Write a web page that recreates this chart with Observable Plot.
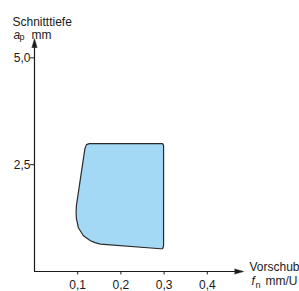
<!DOCTYPE html>
<html>
<head>
<meta charset="utf-8">
<script src="https://cdn.jsdelivr.net/npm/d3@7"></script>
<script src="https://cdn.jsdelivr.net/npm/@observablehq/plot@0.6"></script>
<style>
  html, body { margin: 0; padding: 0; background: #fff; }
  #chart svg { display: block; overflow: visible; }
</style>
</head>
<body>
<div id="chart"></div>
<script>
// Vorschub f_n (mm/U) and Schnitttiefe a_p (mm) along the boundary of the working region
const feed =  [0.1167, 0.1202, 0.1271, 0.2965, 0.2988, 0.2988, 0.2965, 0.2919, 0.1527, 0.1400, 0.1295, 0.1132, 0.1016, 0.0970, 0.0963, 0.0970];
const depth = [2.876,  2.969,  2.993,  2.993,  2.946,  0.602,  0.532,  0.532,  0.642,  0.675,  0.720,  0.837,  1.024,  1.235,  1.376,  1.540];

const xTicks = [0.1, 0.2, 0.3, 0.4];
const xTickLabels = ["0,1", "0,2", "0,3", "0,4"];
const yTicks = [2.5, 5.0];
const yTickLabels = ["2,5", "5,0"];

const region = feed.map((f, i) => ({f, a: depth[i]}));
const font = "Liberation Sans, Arial, Helvetica, sans-serif";
const ink = "#1a1a1a";
const fs = 12;

const chart = Plot.plot({
  width: 299,
  height: 291,
  marginLeft: 34,
  marginRight: 49,
  marginTop: 36,
  marginBottom: 20,
  style: {fontFamily: font, fontSize: fs + "px", color: ink, background: "#fff", overflow: "visible"},
  x: {domain: [0, 0.5], axis: null},
  y: {domain: [0, 5.5], axis: null},
  marks: [
    Plot.line(region, {x: "f", y: "a", curve: "linear-closed", fill: "#a3d9f5", stroke: "#2a2a2a", strokeWidth: 1.2, strokeLinejoin: "round"}),
    // axes
    Plot.ruleX([0], {y1: 0, y2: 5.3, stroke: ink, strokeWidth: 1.2}),
    Plot.ruleY([0], {x1: 0, x2: 0.466, stroke: ink, strokeWidth: 1.2}),
    Plot.vector([{x: 0, y: 5.45}], {x: "x", y: "y", length: 9, rotate: 0, shape: "spike", r: 2.6, anchor: "end", fill: ink, stroke: ink, strokeWidth: 0.5}),
    Plot.vector([{x: 0.484, y: 0}], {x: "x", y: "y", length: 9, rotate: 90, shape: "spike", r: 2.6, anchor: "end", fill: ink, stroke: ink, strokeWidth: 0.5}),
    // ticks
    Plot.ruleX(xTicks, {x: d => d, y1: 0, y2: -0.08, stroke: ink, strokeWidth: 1}),
    Plot.ruleY(yTicks, {y: d => d, x1: -0.009, x2: 0, stroke: ink, strokeWidth: 1}),
    Plot.text(xTicks, {x: d => d, y: 0, dy: 14, text: (d, i) => xTickLabels[i], fontSize: fs, fill: ink}),
    Plot.text(yTicks, {x: 0, y: d => d, dx: -4, textAnchor: "end", text: (d, i) => yTickLabels[i], fontSize: fs, fill: ink}),
    // y axis title
    Plot.text(["Schnitttiefe"], {frameAnchor: "top-left", dx: -22, dy: -19, textAnchor: "start", fontSize: fs, fill: ink}),
    Plot.text(["a"], {frameAnchor: "top-left", dx: -21, dy: -6, textAnchor: "start", fontSize: fs, fontStyle: "italic", fill: ink}),
    Plot.text(["p"], {frameAnchor: "top-left", dx: -15, dy: -3, textAnchor: "start", fontSize: 9, fill: ink}),
    Plot.text(["mm"], {frameAnchor: "top-left", dx: -3, dy: -6, textAnchor: "start", fontSize: fs, fill: ink}),
    // x axis title
    Plot.text(["Vorschub"], {frameAnchor: "bottom-right", dx: -1, dy: -1, textAnchor: "start", fontSize: fs, fill: ink}),
    Plot.text(["f"], {frameAnchor: "bottom-right", dx: 1, dy: 13, textAnchor: "start", fontSize: fs, fontStyle: "italic", fill: ink}),
    Plot.text(["n"], {frameAnchor: "bottom-right", dx: 5, dy: 16, textAnchor: "start", fontSize: 9, fill: ink}),
    Plot.text(["mm/U"], {frameAnchor: "bottom-right", dx: 15, dy: 13, textAnchor: "start", fontSize: fs, fill: ink})
  ]
});
document.getElementById("chart").appendChild(chart);
</script>
</body>
</html>
